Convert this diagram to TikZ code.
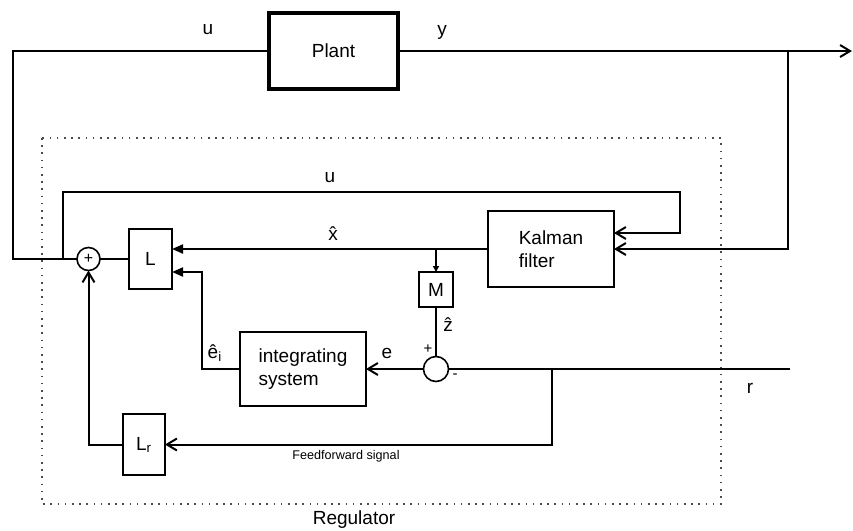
\documentclass[tikz,border=0pt]{standalone}
\usepackage{fontspec}
\setmainfont{Liberation Sans}
\usetikzlibrary{arrows.meta,calc,positioning}

\begin{document}
\begin{tikzpicture}[x=.5pt,y=-.5pt,
  blk/.style={draw,line width=.8pt,inner sep=0pt,outer sep=0pt,align=left,
    font=\fontsize{9.5}{11.5}\selectfont},
  sum/.style={draw,circle,line width=.8pt,inner sep=0pt,outer sep=0pt,
    minimum size=12pt},
  w/.style={line width=1pt},
  o/.style={w,-{Straight Barb[length=5pt,width=6pt,line width=1pt]}},
  f/.style={w,-{Triangle[length=5.5pt,width=4.5pt]}},
  lab/.style={font=\fontsize{9.5}{11.5}\selectfont,inner sep=0pt},
  sgn/.style={font=\fontsize{7.5}{8}\selectfont,inner sep=0pt},
  reg/.style={line width=.8pt,gray!60!black,dash pattern=on .8pt off 2.8pt}]
\useasboundingbox (0,0) rectangle (853,531);
\node[blk,line width=2pt,minimum width=64.5pt,minimum height=38pt] (plant) at (333.5,51) {Plant};
\node[blk,minimum width=63pt,minimum height=38pt] (kal) at (551,249) {Kalman\\filter};
\node[blk,minimum width=21.5pt,minimum height=30pt] (L) at (150.5,259) {L};
\node[blk,minimum width=17pt,minimum height=17.5pt] (M) at (436,289.5) {M};
\node[blk,minimum width=63pt,minimum height=37pt] (int) at (303,369) {integrating\\system};
\node[blk,minimum width=21pt,minimum height=30.5pt] (Lr) at (144,444.5) {L\textsubscript{r}};
\node[sum,minimum size=11.5pt] (s1) at (88.5,259) {\fontsize{8}{8}\selectfont +};
\node[sum,minimum size=12.5pt] (s2) at (436,369) {};
\coordinate (out) at (852,51);
\coordinate (ybr) at (788,51);
\coordinate (rin) at (790,369);
\coordinate (ffbr) at (552,369);
\draw[w] (s1.west) -- (13,259) |- (plant.west);
\draw[o] (plant.east) -- (out);
\draw[o] (ybr) |- (kal.east);
\draw[o] (63,259) |- (680,192) |- ($(kal.east)+(0,-16)$);
\draw[f] (kal.west) -- (L.east |- kal.west);
\draw[w,-{Triangle[length=3pt,width=3pt]}] (M.north |- kal.west) -- (M.north);
\draw[w] (M.south) -- (s2.north);
\draw[w] (rin) -- (s2.east);
\draw[o] (ffbr) |- (Lr.east);
\draw[o] (s2.west) -- (int.east);
\draw[f] (int.west) -- (202,369) |- ($(L.east)+(0,13)$);
\draw[o] (Lr.west) -| (s1.south);
\draw[w] (L.west) -- (s1.east);
\draw[reg] (42,138) rectangle (721,504);
\node[lab] (ulab) at (208,30) {u};
\node[lab] (ylab) at (442,32) {y};
\node[lab] (u2lab) at (330,178) {u};
\node[lab] (xlab) at (333,234) {\^{x}};
\node[lab] (zlab) at (448,325) {\^{z}};
\node[lab] (elab) at (387,353) {e};
\node[lab] (eilab) at (215,353) {\^{e}\textsubscript{i}};
\node[sgn] (plus) at (428,349) {+};
\node[sgn] (minus) at (455,376) {-};
\node[lab] (rlab) at (750,388) {r};
\node[font=\fontsize{6.3}{7}\selectfont,inner sep=0pt] (fflab) at (346,456) {Feedforward signal};
\node[lab] (reglab) at (354,520) {Regulator};
\end{tikzpicture}
\end{document}
